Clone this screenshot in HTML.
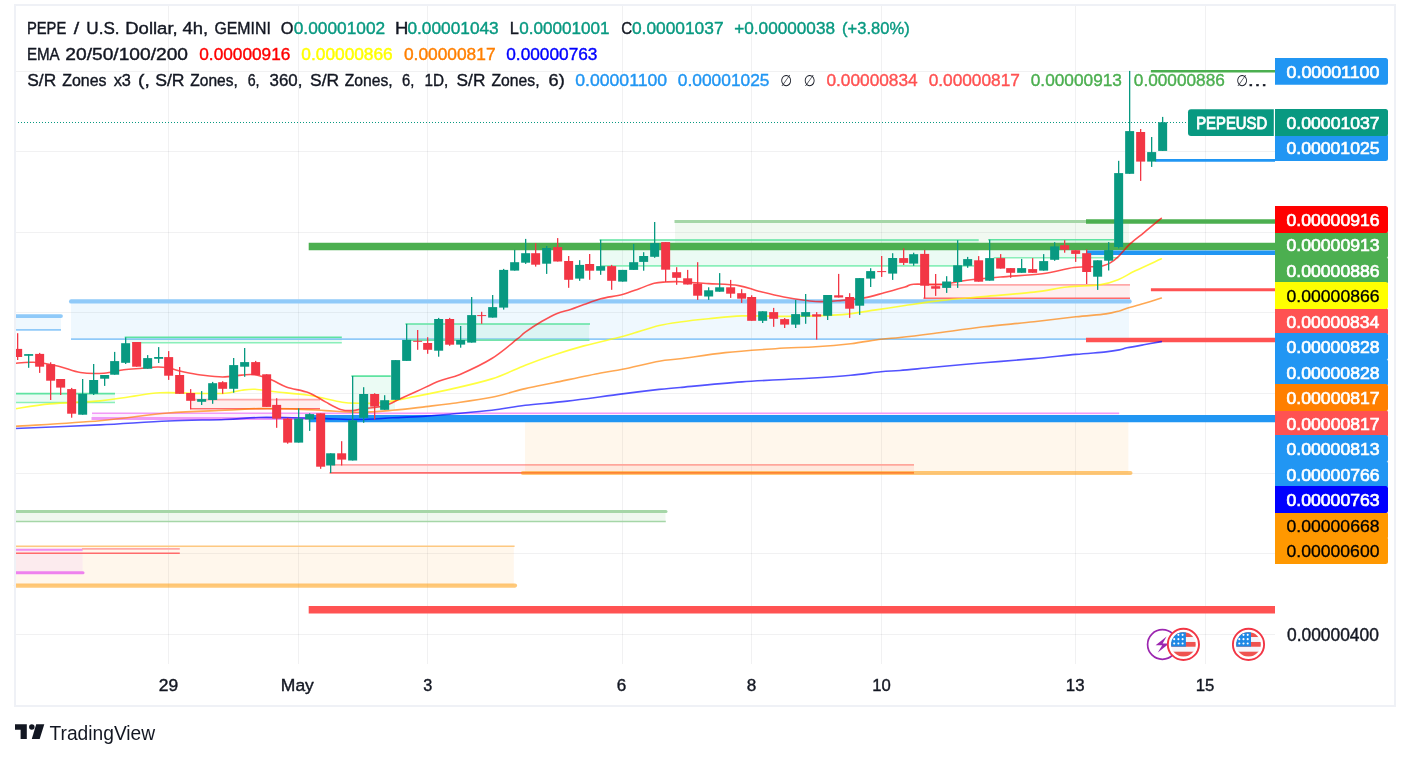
<!DOCTYPE html>
<html lang="en"><head><meta charset="utf-8"><title>PEPEUSD chart</title>
<style>html,body{margin:0;padding:0;background:#fff}svg{display:block}</style></head>
<body>
<svg width="1410" height="759" viewBox="0 0 1410 759" font-family='"Liberation Sans", "DejaVu Sans", sans-serif'>
<rect x="0.00" y="0.00" width="1410.00" height="759.00" fill="#ffffff" />
<line x1="16.00" y1="71.50" x2="1275.00" y2="71.50" stroke="rgba(42,46,57,0.065)" stroke-width="1" stroke-linecap="butt" />
<line x1="16.00" y1="151.50" x2="1275.00" y2="151.50" stroke="rgba(42,46,57,0.065)" stroke-width="1" stroke-linecap="butt" />
<line x1="16.00" y1="232.50" x2="1275.00" y2="232.50" stroke="rgba(42,46,57,0.065)" stroke-width="1" stroke-linecap="butt" />
<line x1="16.00" y1="312.50" x2="1275.00" y2="312.50" stroke="rgba(42,46,57,0.065)" stroke-width="1" stroke-linecap="butt" />
<line x1="16.00" y1="393.50" x2="1275.00" y2="393.50" stroke="rgba(42,46,57,0.065)" stroke-width="1" stroke-linecap="butt" />
<line x1="16.00" y1="473.50" x2="1275.00" y2="473.50" stroke="rgba(42,46,57,0.065)" stroke-width="1" stroke-linecap="butt" />
<line x1="16.00" y1="553.50" x2="1275.00" y2="553.50" stroke="rgba(42,46,57,0.065)" stroke-width="1" stroke-linecap="butt" />
<line x1="16.00" y1="634.50" x2="1275.00" y2="634.50" stroke="rgba(42,46,57,0.065)" stroke-width="1" stroke-linecap="butt" />
<line x1="168.5" y1="6" x2="168.5" y2="664" stroke="rgba(42,46,57,0.065)" stroke-width="1"/>
<line x1="298.5" y1="6" x2="298.5" y2="664" stroke="rgba(42,46,57,0.065)" stroke-width="1"/>
<line x1="427.5" y1="6" x2="427.5" y2="664" stroke="rgba(42,46,57,0.065)" stroke-width="1"/>
<line x1="622.5" y1="6" x2="622.5" y2="664" stroke="rgba(42,46,57,0.065)" stroke-width="1"/>
<line x1="751.5" y1="6" x2="751.5" y2="664" stroke="rgba(42,46,57,0.065)" stroke-width="1"/>
<line x1="881.5" y1="6" x2="881.5" y2="664" stroke="rgba(42,46,57,0.065)" stroke-width="1"/>
<line x1="1075.5" y1="6" x2="1075.5" y2="664" stroke="rgba(42,46,57,0.065)" stroke-width="1"/>
<line x1="1205.5" y1="6" x2="1205.5" y2="664" stroke="rgba(42,46,57,0.065)" stroke-width="1"/>
<rect x="71.00" y="301.30" width="1058.00" height="37.70" fill="rgba(33,150,243,0.07)" />
<line x1="71.00" y1="339.10" x2="1129.50" y2="339.10" stroke="#90caf9" stroke-width="1.6" stroke-linecap="butt" />
<line x1="71.20" y1="301.40" x2="1129.50" y2="301.40" stroke="#90caf9" stroke-width="4.4" stroke-linecap="round" />
<rect x="16.00" y="316.00" width="45.00" height="14.00" fill="rgba(33,150,243,0.07)" />
<line x1="16.00" y1="329.90" x2="61.00" y2="329.90" stroke="#90caf9" stroke-width="1.6" stroke-linecap="butt" />
<line x1="16.00" y1="316.10" x2="61.00" y2="316.10" stroke="#90caf9" stroke-width="3.8" stroke-linecap="round" />
<rect x="16.00" y="393.60" width="99.00" height="8.90" fill="rgba(0,200,110,0.08)" />
<line x1="16.00" y1="393.60" x2="115.00" y2="393.60" stroke="#5fe3a1" stroke-width="1.6" stroke-linecap="butt" />
<line x1="16.00" y1="402.50" x2="115.00" y2="402.50" stroke="#8aefba" stroke-width="1.6" stroke-linecap="butt" />
<rect x="125.00" y="337.30" width="216.80" height="5.50" fill="rgba(0,200,110,0.08)" />
<line x1="124.70" y1="337.30" x2="341.80" y2="337.30" stroke="#5fe3a1" stroke-width="1.6" stroke-linecap="butt" />
<line x1="132.00" y1="342.80" x2="341.80" y2="342.80" stroke="#8aefba" stroke-width="1.6" stroke-linecap="butt" />
<rect x="352.00" y="376.20" width="43.00" height="33.80" fill="rgba(0,200,110,0.08)" />
<line x1="351.40" y1="376.10" x2="390.80" y2="376.10" stroke="#5fe3a1" stroke-width="1.6" stroke-linecap="butt" />
<rect x="406.00" y="324.00" width="183.00" height="15.60" fill="rgba(0,200,110,0.08)" />
<line x1="405.40" y1="324.05" x2="590.00" y2="324.05" stroke="#5fe3a1" stroke-width="1.6" stroke-linecap="butt" />
<line x1="406.00" y1="340.20" x2="589.50" y2="340.20" stroke="#74e3ab" stroke-width="1.7" stroke-linecap="butt" />
<rect x="675.00" y="221.50" width="454.00" height="24.50" fill="rgba(76,175,80,0.08)" />
<line x1="674.50" y1="221.50" x2="1086.00" y2="221.50" stroke="#a5d6a7" stroke-width="3" stroke-linecap="butt" />
<rect x="600.00" y="240.00" width="378.50" height="26.00" fill="rgba(0,200,110,0.08)" />
<line x1="599.50" y1="240.00" x2="978.70" y2="240.00" stroke="#5fe3a1" stroke-width="1.6" stroke-linecap="butt" />
<line x1="600.00" y1="265.90" x2="974.00" y2="265.90" stroke="#8aefba" stroke-width="1.6" stroke-linecap="butt" />
<rect x="989.00" y="239.80" width="125.00" height="18.00" fill="rgba(0,200,110,0.08)" />
<line x1="988.20" y1="239.80" x2="1114.00" y2="239.80" stroke="#5fe3a1" stroke-width="1.6" stroke-linecap="butt" />
<line x1="993.70" y1="257.80" x2="1118.40" y2="257.80" stroke="#8aefba" stroke-width="1.6" stroke-linecap="butt" />
<rect x="191.00" y="399.20" width="129.00" height="9.60" fill="rgba(255,82,82,0.09)" />
<line x1="191.00" y1="399.60" x2="320.00" y2="399.60" stroke="#ffa8a8" stroke-width="1.6" stroke-linecap="butt" />
<line x1="190.00" y1="408.80" x2="320.00" y2="408.80" stroke="#ff6b6b" stroke-width="1.6" stroke-linecap="butt" />
<rect x="331.00" y="465.00" width="583.00" height="8.00" fill="rgba(255,82,82,0.09)" />
<line x1="332.00" y1="464.90" x2="914.00" y2="464.90" stroke="#ffa8a8" stroke-width="1.6" stroke-linecap="butt" />
<line x1="329.60" y1="472.90" x2="914.00" y2="472.90" stroke="#ff6b6b" stroke-width="1.6" stroke-linecap="butt" />
<rect x="924.00" y="285.00" width="205.80" height="13.20" fill="rgba(255,82,82,0.09)" />
<line x1="924.00" y1="284.90" x2="1130.00" y2="284.90" stroke="#ffa8a8" stroke-width="1.6" stroke-linecap="butt" />
<line x1="923.40" y1="298.20" x2="1130.00" y2="298.20" stroke="#ff6b6b" stroke-width="1.6" stroke-linecap="butt" />
<rect x="92.00" y="413.40" width="1027.00" height="5.10" fill="#fdeffe" />
<line x1="92.00" y1="413.20" x2="1119.20" y2="413.20" stroke="#f29af7" stroke-width="1.4" stroke-linecap="butt" />
<line x1="91.50" y1="418.40" x2="320.00" y2="418.40" stroke="#ef9af6" stroke-width="3" stroke-linecap="butt" />
<rect x="525.00" y="422.00" width="603.40" height="51.00" fill="rgba(255,152,0,0.075)" />
<rect x="16.00" y="546.20" width="497.80" height="39.40" fill="rgba(255,152,0,0.075)" />
<line x1="16.00" y1="546.20" x2="514.60" y2="546.20" stroke="#fdc880" stroke-width="1.5" stroke-linecap="butt" />
<line x1="16.00" y1="585.60" x2="515.00" y2="585.60" stroke="rgba(255,152,0,0.52)" stroke-width="4.2" stroke-linecap="round" />
<rect x="16.00" y="549.60" width="66.60" height="23.10" fill="#fcebee" />
<line x1="16.00" y1="549.70" x2="82.60" y2="549.70" stroke="#f08df0" stroke-width="2" stroke-linecap="butt" />
<line x1="16.00" y1="572.70" x2="83.00" y2="572.70" stroke="#ee82ee" stroke-width="3" stroke-linecap="round" />
<line x1="82.00" y1="548.90" x2="179.80" y2="548.90" stroke="#ffa8a8" stroke-width="1.6" stroke-linecap="butt" />
<line x1="16.00" y1="553.20" x2="179.80" y2="553.20" stroke="#ff6b6b" stroke-width="1.6" stroke-linecap="butt" />
<rect x="16.00" y="511.60" width="649.50" height="9.80" fill="rgba(76,175,80,0.09)" />
<line x1="16.00" y1="511.60" x2="666.00" y2="511.60" stroke="#a5d6a7" stroke-width="3" stroke-linecap="round" />
<line x1="16.00" y1="521.40" x2="665.80" y2="521.40" stroke="#a5d6a7" stroke-width="1.5" stroke-linecap="butt" />
<line x1="522.80" y1="473.00" x2="1130.50" y2="473.00" stroke="rgba(255,152,0,0.52)" stroke-width="4" stroke-linecap="round" />
<line x1="308.70" y1="246.50" x2="1275.00" y2="246.50" stroke="#4caf50" stroke-width="7.3" stroke-linecap="butt" />
<line x1="308.70" y1="418.70" x2="1275.00" y2="418.70" stroke="#2196f3" stroke-width="7.3" stroke-linecap="butt" />
<line x1="308.70" y1="609.80" x2="1275.00" y2="609.80" stroke="#ff5252" stroke-width="7.5" stroke-linecap="butt" />
<line x1="1086.00" y1="221.60" x2="1275.00" y2="221.60" stroke="#4caf50" stroke-width="4.5" stroke-linecap="butt" />
<line x1="1086.80" y1="252.70" x2="1275.00" y2="252.70" stroke="#2196f3" stroke-width="4.5" stroke-linecap="butt" />
<line x1="1086.00" y1="340.00" x2="1275.00" y2="340.00" stroke="#ff5252" stroke-width="4.5" stroke-linecap="butt" />
<line x1="1150.90" y1="289.80" x2="1275.00" y2="289.80" stroke="#ff5252" stroke-width="3" stroke-linecap="butt" />
<line x1="1150.90" y1="71.20" x2="1275.00" y2="71.20" stroke="#4caf50" stroke-width="2.6" stroke-linecap="butt" />
<line x1="1155.40" y1="160.40" x2="1275.00" y2="160.40" stroke="#2196f3" stroke-width="2.8" stroke-linecap="butt" />
<path d="M15.0 428.5 C29.2 427.9 74.5 426.1 100.0 424.9 C125.5 423.6 147.2 421.9 168.0 421.0 C188.8 420.1 209.9 420.1 225.0 419.5 C240.1 418.9 247.3 417.8 258.5 417.5 C269.7 417.2 280.9 417.6 292.0 417.8 C303.1 418.0 314.2 418.3 325.4 418.6 C336.5 418.9 347.7 419.6 358.9 419.5 C370.1 419.4 381.2 418.4 392.4 417.8 C403.6 417.2 416.3 416.7 425.9 416.1 C435.5 415.5 439.0 415.2 450.0 414.2 C461.0 413.2 479.2 411.8 491.8 410.3 C504.4 408.8 512.7 406.8 525.3 405.3 C537.9 403.8 551.0 403.0 567.2 401.1 C583.4 399.2 607.1 395.8 622.4 393.9 C637.7 391.9 649.6 390.5 659.2 389.4 C668.8 388.3 666.2 388.8 680.0 387.5 C693.8 386.2 720.5 383.4 742.0 381.9 C763.5 380.3 790.8 379.3 808.9 378.2 C827.0 377.1 838.8 376.3 850.8 375.2 C862.8 374.1 872.7 372.6 880.9 371.8 C889.1 371.0 891.2 371.2 900.0 370.5 C908.8 369.8 919.5 368.6 933.5 367.3 C947.5 366.0 967.0 364.2 983.7 362.8 C1000.4 361.4 1018.6 360.0 1033.9 358.6 C1049.2 357.2 1063.8 355.5 1075.8 354.4 C1087.8 353.3 1098.7 352.6 1105.9 351.9 C1113.2 351.1 1115.8 350.6 1119.3 349.9 C1122.8 349.2 1122.9 348.6 1127.0 347.8 C1131.1 347.0 1138.0 345.8 1143.7 344.8 C1149.4 343.8 1158.4 342.1 1161.3 341.6" fill="none" stroke="#0000ff" stroke-width="1.6" stroke-linejoin="round" stroke-linecap="round" opacity="0.68"/>
<path d="M15.0 426.4 C29.2 425.4 74.5 422.9 100.0 420.7 C125.5 418.5 147.2 414.7 168.0 413.0 C188.8 411.3 209.9 411.0 225.0 410.3 C240.1 409.6 247.3 408.8 258.5 408.6 C269.7 408.4 280.9 408.6 292.0 408.9 C303.1 409.2 314.2 410.0 325.4 410.6 C336.5 411.2 347.7 412.4 358.9 412.3 C370.1 412.2 381.2 411.2 392.4 410.3 C403.6 409.4 416.3 407.7 425.9 406.6 C435.5 405.5 439.0 405.2 450.0 403.7 C461.0 402.1 479.2 399.8 491.8 397.3 C504.4 394.8 515.0 391.0 525.3 388.6 C535.6 386.2 541.2 385.3 553.8 382.7 C566.4 380.1 589.3 375.2 600.7 373.0 C612.1 370.8 612.6 371.2 622.4 369.3 C632.1 367.4 649.6 363.1 659.2 361.3 C668.8 359.6 669.0 360.2 680.0 358.8 C691.0 357.4 709.3 354.3 725.2 352.6 C741.1 350.9 760.3 349.7 775.4 348.7 C790.5 347.7 803.0 347.5 815.6 346.7 C828.2 345.9 839.9 344.9 850.8 343.7 C861.7 342.4 872.7 340.2 880.9 339.2 C889.1 338.2 891.2 338.4 900.0 337.5 C908.8 336.6 919.5 335.3 933.5 333.5 C947.5 331.7 967.0 328.8 983.7 326.8 C1000.4 324.9 1018.6 323.5 1033.9 321.8 C1049.2 320.1 1063.8 318.1 1075.8 316.8 C1087.8 315.5 1098.7 314.9 1105.9 313.9 C1113.2 312.9 1115.8 311.8 1119.3 310.9 C1122.8 309.9 1122.9 309.4 1127.0 308.2 C1131.1 307.0 1138.0 305.2 1143.7 303.5 C1149.4 301.8 1158.4 299.0 1161.3 298.1" fill="none" stroke="#ff7f00" stroke-width="1.6" stroke-linejoin="round" stroke-linecap="round" opacity="0.68"/>
<path d="M15.0 408.8 C20.8 408.0 35.8 405.2 50.0 403.9 C64.2 402.6 86.7 402.1 100.0 400.9 C113.3 399.7 120.0 398.0 130.0 396.7 C140.0 395.4 148.3 393.4 160.0 392.8 C171.7 392.2 189.2 393.3 200.0 393.4 C210.8 393.5 218.1 393.7 225.0 393.2 C231.9 392.7 236.7 390.8 241.7 390.2 C246.7 389.6 249.5 389.0 255.1 389.3 C260.7 389.6 266.3 390.8 275.2 391.8 C284.1 392.8 297.5 393.5 308.7 395.2 C319.9 396.9 333.8 400.9 342.2 402.2 C350.6 403.5 353.3 403.0 358.9 403.2 C364.5 403.4 370.1 403.6 375.7 403.2 C381.3 402.8 386.8 401.9 392.4 401.0 C398.0 400.1 403.5 398.8 409.1 397.7 C414.7 396.6 419.1 395.8 425.9 394.4 C432.7 393.0 439.0 392.0 450.0 389.4 C461.0 386.8 479.2 382.9 491.8 378.9 C504.4 374.9 515.0 369.2 525.3 365.2 C535.6 361.2 544.0 358.2 553.8 355.0 C563.6 351.8 573.3 348.8 583.9 345.9 C594.5 343.0 609.0 339.9 617.4 337.8 C625.8 335.7 627.1 335.1 634.1 333.0 C641.1 330.9 651.6 327.3 659.2 325.5 C666.9 323.7 671.8 323.1 680.0 322.0 C688.2 320.9 698.2 319.8 708.5 318.8 C718.8 317.8 728.0 316.3 742.0 315.9 C756.0 315.5 775.5 316.5 792.2 316.3 C808.9 316.1 828.5 315.7 842.4 314.6 C856.3 313.5 865.5 311.4 875.9 309.9 C886.3 308.4 894.0 307.1 905.0 305.5 C916.0 303.9 928.7 301.9 941.8 300.4 C954.9 298.9 968.4 298.0 983.7 296.6 C999.1 295.2 1020.0 293.7 1033.9 292.1 C1047.9 290.5 1056.2 288.2 1067.4 287.0 C1078.6 285.8 1092.4 285.9 1100.9 284.6 C1109.4 283.4 1112.9 281.8 1118.6 279.5 C1124.3 277.2 1128.2 274.2 1135.3 270.8 C1142.4 267.4 1157.0 260.8 1161.3 258.8" fill="none" stroke="#ffff00" stroke-width="1.65" stroke-linejoin="round" stroke-linecap="round" opacity="0.75"/>
<path d="M15.0 363.3 C18.1 363.1 26.2 361.8 33.5 362.3 C40.8 362.8 50.8 364.5 58.6 366.2 C66.4 367.9 72.8 371.3 80.3 372.5 C87.8 373.7 96.5 373.6 103.8 373.2 C111.1 372.8 117.5 370.6 123.9 369.8 C130.3 369.0 136.7 368.8 142.3 368.3 C147.9 367.8 153.1 367.1 157.3 367.0 C161.5 366.9 162.9 367.0 167.4 367.8 C171.9 368.6 178.5 370.8 184.1 372.0 C189.7 373.2 194.5 374.2 200.9 375.0 C207.3 375.8 215.8 377.0 222.6 377.0 C229.4 377.0 236.3 375.5 241.7 375.1 C247.1 374.7 250.1 374.0 255.1 374.8 C260.1 375.6 266.6 378.0 271.9 380.1 C277.2 382.2 280.8 385.1 286.9 387.2 C293.0 389.3 302.3 390.2 308.7 392.7 C315.1 395.1 320.1 399.1 325.4 401.9 C330.7 404.7 336.0 407.9 340.5 409.4 C345.0 410.8 348.3 410.7 352.2 410.6 C356.1 410.5 358.6 409.4 363.9 408.6 C369.2 407.9 377.9 407.8 384.0 406.1 C390.1 404.4 395.2 401.0 400.8 398.5 C406.4 396.0 411.1 393.9 417.5 391.0 C423.9 388.1 432.2 383.8 439.3 381.0 C446.4 378.2 451.2 378.1 460.0 374.4 C468.8 370.6 482.3 364.4 491.8 358.5 C501.3 352.6 511.4 343.6 517.0 339.2 C522.6 334.8 521.1 335.2 525.3 332.2 C529.5 329.2 536.7 324.4 542.0 321.3 C547.3 318.2 552.4 315.3 557.1 313.4 C561.9 311.4 566.0 311.1 570.5 309.6 C575.0 308.1 578.9 306.4 583.9 304.6 C588.9 302.8 594.3 300.4 600.7 298.7 C607.1 297.0 616.0 296.2 622.4 294.5 C628.8 292.8 633.9 290.6 639.2 288.7 C644.5 286.8 649.8 284.4 654.2 283.3 C658.7 282.2 661.6 282.3 665.9 282.0 C670.2 281.7 672.9 281.4 680.0 281.7 C687.1 282.0 698.7 283.0 708.5 283.6 C718.3 284.2 730.2 284.3 738.6 285.6 C747.0 286.9 751.2 289.3 758.7 291.2 C766.2 293.1 774.3 295.3 783.8 297.0 C793.3 298.7 805.8 300.9 815.6 301.5 C825.4 302.1 834.3 301.0 842.4 300.4 C850.5 299.8 857.2 299.2 864.2 297.9 C871.2 296.6 877.4 294.6 884.2 292.8 C891.0 291.0 900.1 288.4 905.0 287.0 C909.9 285.6 907.3 284.7 913.4 284.2 C919.5 283.7 932.9 284.8 941.8 284.2 C950.7 283.6 957.2 281.5 967.0 280.3 C976.8 279.1 987.9 278.1 1000.4 277.0 C1012.9 275.9 1030.0 275.3 1042.3 273.7 C1054.6 272.1 1064.9 268.7 1074.1 267.5 C1083.3 266.3 1092.7 266.9 1097.5 266.6 C1102.3 266.3 1100.9 266.4 1103.0 265.8 C1105.1 265.2 1107.6 264.5 1110.2 262.9 C1112.8 261.3 1115.2 259.5 1118.6 256.3 C1121.9 253.1 1126.1 247.6 1130.3 243.7 C1134.5 239.8 1138.5 237.0 1143.7 232.8 C1148.9 228.6 1158.4 220.7 1161.3 218.3" fill="none" stroke="#ff0000" stroke-width="1.6" stroke-linejoin="round" stroke-linecap="round" opacity="0.68"/>
<g clip-path="url(#pane)">
<clipPath id="pane"><rect x="16" y="6" width="1259" height="658"/></clipPath>
<rect x="17.00" y="333.20" width="1.30" height="26.80" fill="#f23645" />
<rect x="13.15" y="348.90" width="9.00" height="8.10" fill="#f23645" />
<rect x="28.00" y="354.10" width="1.30" height="13.70" fill="#089981" />
<rect x="24.15" y="354.10" width="9.00" height="1.70" fill="#089981" />
<rect x="39.00" y="352.90" width="1.30" height="20.00" fill="#f23645" />
<rect x="35.15" y="353.90" width="9.00" height="12.80" fill="#f23645" />
<rect x="50.00" y="362.30" width="1.30" height="37.70" fill="#f23645" />
<rect x="46.15" y="364.20" width="9.00" height="16.50" fill="#f23645" />
<rect x="60.00" y="379.00" width="1.30" height="16.00" fill="#f23645" />
<rect x="56.15" y="379.00" width="9.00" height="8.60" fill="#f23645" />
<rect x="71.00" y="387.90" width="1.30" height="29.80" fill="#f23645" />
<rect x="67.15" y="389.10" width="9.00" height="24.60" fill="#f23645" />
<rect x="82.00" y="379.00" width="1.30" height="35.70" fill="#089981" />
<rect x="78.15" y="393.80" width="9.00" height="20.90" fill="#089981" />
<rect x="93.00" y="364.00" width="1.30" height="31.00" fill="#089981" />
<rect x="89.15" y="380.00" width="9.00" height="13.80" fill="#089981" />
<rect x="104.00" y="375.00" width="1.30" height="10.90" fill="#089981" />
<rect x="100.15" y="375.00" width="9.00" height="3.70" fill="#089981" />
<rect x="114.00" y="351.90" width="1.30" height="22.80" fill="#089981" />
<rect x="110.15" y="361.10" width="9.00" height="13.60" fill="#089981" />
<rect x="125.00" y="337.40" width="1.30" height="26.60" fill="#089981" />
<rect x="121.15" y="343.20" width="9.00" height="19.60" fill="#089981" />
<rect x="136.00" y="342.00" width="1.30" height="24.70" fill="#f23645" />
<rect x="132.15" y="342.00" width="9.00" height="24.70" fill="#f23645" />
<rect x="147.00" y="355.10" width="1.30" height="13.60" fill="#089981" />
<rect x="143.15" y="358.10" width="9.00" height="10.60" fill="#089981" />
<rect x="158.00" y="347.10" width="1.30" height="15.90" fill="#089981" />
<rect x="154.15" y="357.00" width="9.00" height="1.80" fill="#089981" />
<rect x="168.00" y="351.10" width="1.30" height="28.80" fill="#f23645" />
<rect x="164.15" y="357.10" width="9.00" height="18.60" fill="#f23645" />
<rect x="179.00" y="367.00" width="1.30" height="26.80" fill="#f23645" />
<rect x="175.15" y="375.00" width="9.00" height="18.80" fill="#f23645" />
<rect x="190.00" y="389.10" width="1.30" height="20.10" fill="#f23645" />
<rect x="186.15" y="393.00" width="9.00" height="7.80" fill="#f23645" />
<rect x="201.00" y="391.10" width="1.30" height="13.90" fill="#089981" />
<rect x="197.15" y="399.10" width="9.00" height="2.70" fill="#089981" />
<rect x="212.00" y="381.90" width="1.30" height="21.90" fill="#089981" />
<rect x="208.15" y="383.20" width="9.00" height="16.80" fill="#089981" />
<rect x="222.00" y="381.20" width="1.30" height="12.60" fill="#f23645" />
<rect x="218.15" y="382.20" width="9.00" height="6.60" fill="#f23645" />
<rect x="233.00" y="358.00" width="1.30" height="34.70" fill="#089981" />
<rect x="229.15" y="365.10" width="9.00" height="23.70" fill="#089981" />
<rect x="244.00" y="348.00" width="1.30" height="28.80" fill="#089981" />
<rect x="240.15" y="362.10" width="9.00" height="4.60" fill="#089981" />
<rect x="255.00" y="360.90" width="1.30" height="14.20" fill="#f23645" />
<rect x="251.15" y="362.10" width="9.00" height="13.00" fill="#f23645" />
<rect x="266.00" y="374.30" width="1.30" height="32.60" fill="#f23645" />
<rect x="262.15" y="374.30" width="9.00" height="32.60" fill="#f23645" />
<rect x="276.00" y="398.20" width="1.30" height="29.60" fill="#f23645" />
<rect x="272.15" y="404.90" width="9.00" height="13.70" fill="#f23645" />
<rect x="287.00" y="417.80" width="1.30" height="25.90" fill="#f23645" />
<rect x="283.15" y="418.60" width="9.00" height="24.00" fill="#f23645" />
<rect x="298.00" y="408.30" width="1.30" height="34.30" fill="#089981" />
<rect x="294.15" y="418.60" width="9.00" height="24.00" fill="#089981" />
<rect x="309.00" y="413.30" width="1.30" height="17.60" fill="#089981" />
<rect x="305.15" y="414.10" width="9.00" height="5.40" fill="#089981" />
<rect x="320.00" y="413.30" width="1.30" height="55.50" fill="#f23645" />
<rect x="316.15" y="413.30" width="9.00" height="53.40" fill="#f23645" />
<rect x="330.00" y="453.30" width="1.30" height="19.70" fill="#089981" />
<rect x="326.15" y="453.30" width="9.00" height="12.20" fill="#089981" />
<rect x="341.00" y="441.20" width="1.30" height="24.30" fill="#f23645" />
<rect x="337.15" y="453.30" width="9.00" height="6.30" fill="#f23645" />
<rect x="352.00" y="376.00" width="1.30" height="84.50" fill="#089981" />
<rect x="348.15" y="420.30" width="9.00" height="40.20" fill="#089981" />
<rect x="363.00" y="387.20" width="1.30" height="35.60" fill="#089981" />
<rect x="359.15" y="394.00" width="9.00" height="23.80" fill="#089981" />
<rect x="374.00" y="393.20" width="1.30" height="26.30" fill="#f23645" />
<rect x="370.15" y="394.00" width="9.00" height="12.60" fill="#f23645" />
<rect x="384.00" y="395.20" width="1.30" height="14.60" fill="#089981" />
<rect x="380.15" y="400.20" width="9.00" height="9.60" fill="#089981" />
<rect x="395.00" y="360.10" width="1.30" height="39.70" fill="#089981" />
<rect x="391.15" y="360.10" width="9.00" height="39.70" fill="#089981" />
<rect x="406.00" y="323.90" width="1.30" height="37.00" fill="#089981" />
<rect x="402.15" y="339.90" width="9.00" height="21.00" fill="#089981" />
<rect x="417.00" y="330.00" width="1.30" height="19.80" fill="#f23645" />
<rect x="413.15" y="340.80" width="9.00" height="1.00" fill="#f23645" />
<rect x="427.00" y="337.20" width="1.30" height="16.60" fill="#f23645" />
<rect x="423.15" y="343.00" width="9.00" height="6.80" fill="#f23645" />
<rect x="438.00" y="317.90" width="1.30" height="38.80" fill="#089981" />
<rect x="434.15" y="319.00" width="9.00" height="31.70" fill="#089981" />
<rect x="449.00" y="317.90" width="1.30" height="27.90" fill="#f23645" />
<rect x="445.15" y="319.00" width="9.00" height="25.70" fill="#f23645" />
<rect x="460.00" y="326.00" width="1.30" height="21.70" fill="#089981" />
<rect x="456.15" y="340.00" width="9.00" height="4.60" fill="#089981" />
<rect x="471.00" y="297.00" width="1.30" height="45.60" fill="#089981" />
<rect x="467.15" y="315.10" width="9.00" height="27.50" fill="#089981" />
<rect x="481.00" y="311.80" width="1.30" height="12.00" fill="#f23645" />
<rect x="477.15" y="315.10" width="9.00" height="1.00" fill="#f23645" />
<rect x="492.00" y="295.00" width="1.30" height="22.60" fill="#089981" />
<rect x="488.15" y="307.10" width="9.00" height="10.50" fill="#089981" />
<rect x="503.00" y="268.90" width="1.30" height="40.70" fill="#089981" />
<rect x="499.15" y="269.90" width="9.00" height="37.70" fill="#089981" />
<rect x="514.00" y="249.80" width="1.30" height="20.80" fill="#089981" />
<rect x="510.15" y="262.20" width="9.00" height="8.40" fill="#089981" />
<rect x="525.00" y="238.90" width="1.30" height="25.00" fill="#089981" />
<rect x="521.15" y="253.20" width="9.00" height="9.50" fill="#089981" />
<rect x="535.00" y="243.10" width="1.30" height="23.50" fill="#f23645" />
<rect x="531.15" y="253.20" width="9.00" height="11.50" fill="#f23645" />
<rect x="546.00" y="246.00" width="1.30" height="27.90" fill="#089981" />
<rect x="542.15" y="248.00" width="9.00" height="15.70" fill="#089981" />
<rect x="557.00" y="238.10" width="1.30" height="23.40" fill="#f23645" />
<rect x="553.15" y="247.10" width="9.00" height="14.40" fill="#f23645" />
<rect x="568.00" y="256.00" width="1.30" height="31.80" fill="#f23645" />
<rect x="564.15" y="261.00" width="9.00" height="18.80" fill="#f23645" />
<rect x="579.00" y="260.20" width="1.30" height="20.60" fill="#089981" />
<rect x="575.15" y="264.90" width="9.00" height="13.70" fill="#089981" />
<rect x="589.00" y="254.00" width="1.30" height="25.80" fill="#f23645" />
<rect x="585.15" y="264.00" width="9.00" height="6.70" fill="#f23645" />
<rect x="600.00" y="239.80" width="1.30" height="35.00" fill="#089981" />
<rect x="596.15" y="266.10" width="9.00" height="4.60" fill="#089981" />
<rect x="611.00" y="264.90" width="1.30" height="24.90" fill="#f23645" />
<rect x="607.15" y="266.10" width="9.00" height="14.70" fill="#f23645" />
<rect x="622.00" y="269.90" width="1.30" height="11.70" fill="#089981" />
<rect x="618.15" y="269.90" width="9.00" height="11.70" fill="#089981" />
<rect x="633.00" y="244.00" width="1.30" height="25.90" fill="#089981" />
<rect x="629.15" y="262.20" width="9.00" height="7.70" fill="#089981" />
<rect x="643.00" y="252.20" width="1.30" height="18.50" fill="#089981" />
<rect x="639.15" y="256.00" width="9.00" height="5.90" fill="#089981" />
<rect x="654.00" y="222.00" width="1.30" height="35.80" fill="#089981" />
<rect x="650.15" y="243.10" width="9.00" height="13.70" fill="#089981" />
<rect x="665.00" y="242.10" width="1.30" height="39.90" fill="#f23645" />
<rect x="661.15" y="242.10" width="9.00" height="27.60" fill="#f23645" />
<rect x="676.00" y="267.20" width="1.30" height="17.60" fill="#f23645" />
<rect x="672.15" y="272.20" width="9.00" height="5.60" fill="#f23645" />
<rect x="687.00" y="269.90" width="1.30" height="14.60" fill="#f23645" />
<rect x="683.15" y="278.30" width="9.00" height="6.20" fill="#f23645" />
<rect x="697.00" y="262.20" width="1.30" height="37.70" fill="#f23645" />
<rect x="693.15" y="283.60" width="9.00" height="12.10" fill="#f23645" />
<rect x="708.00" y="287.30" width="1.30" height="12.60" fill="#089981" />
<rect x="704.15" y="290.30" width="9.00" height="6.20" fill="#089981" />
<rect x="719.00" y="273.10" width="1.30" height="18.60" fill="#089981" />
<rect x="715.15" y="287.30" width="9.00" height="4.40" fill="#089981" />
<rect x="730.00" y="279.90" width="1.30" height="18.00" fill="#f23645" />
<rect x="726.15" y="287.30" width="9.00" height="6.40" fill="#f23645" />
<rect x="741.00" y="289.20" width="1.30" height="13.70" fill="#f23645" />
<rect x="737.15" y="293.20" width="9.00" height="5.50" fill="#f23645" />
<rect x="751.00" y="295.30" width="1.30" height="25.50" fill="#f23645" />
<rect x="747.15" y="297.00" width="9.00" height="23.80" fill="#f23645" />
<rect x="762.00" y="311.30" width="1.30" height="11.70" fill="#089981" />
<rect x="758.15" y="311.30" width="9.00" height="9.50" fill="#089981" />
<rect x="773.00" y="307.90" width="1.30" height="18.90" fill="#f23645" />
<rect x="769.15" y="312.10" width="9.00" height="6.70" fill="#f23645" />
<rect x="784.00" y="318.00" width="1.30" height="10.00" fill="#f23645" />
<rect x="780.15" y="319.10" width="9.00" height="5.50" fill="#f23645" />
<rect x="795.00" y="299.90" width="1.30" height="28.10" fill="#089981" />
<rect x="791.15" y="314.10" width="9.00" height="10.50" fill="#089981" />
<rect x="805.00" y="294.00" width="1.30" height="29.80" fill="#089981" />
<rect x="801.15" y="312.10" width="9.00" height="4.50" fill="#089981" />
<rect x="816.00" y="312.10" width="1.30" height="27.50" fill="#f23645" />
<rect x="812.15" y="314.30" width="9.00" height="2.30" fill="#f23645" />
<rect x="827.00" y="295.00" width="1.30" height="25.00" fill="#089981" />
<rect x="823.15" y="295.00" width="9.00" height="20.80" fill="#089981" />
<rect x="838.00" y="273.90" width="1.30" height="23.60" fill="#f23645" />
<rect x="834.15" y="295.30" width="9.00" height="2.20" fill="#f23645" />
<rect x="849.00" y="293.20" width="1.30" height="24.70" fill="#f23645" />
<rect x="845.15" y="297.00" width="9.00" height="11.70" fill="#f23645" />
<rect x="859.00" y="278.10" width="1.30" height="36.80" fill="#089981" />
<rect x="855.15" y="278.10" width="9.00" height="27.60" fill="#089981" />
<rect x="870.00" y="268.20" width="1.30" height="18.80" fill="#089981" />
<rect x="866.15" y="271.10" width="9.00" height="7.50" fill="#089981" />
<rect x="881.00" y="256.00" width="1.30" height="20.90" fill="#f23645" />
<rect x="877.15" y="271.10" width="9.00" height="1.00" fill="#f23645" />
<rect x="892.00" y="253.20" width="1.30" height="26.70" fill="#089981" />
<rect x="888.15" y="258.00" width="9.00" height="15.60" fill="#089981" />
<rect x="903.00" y="248.30" width="1.30" height="16.70" fill="#f23645" />
<rect x="899.15" y="258.10" width="9.00" height="4.80" fill="#f23645" />
<rect x="913.00" y="252.70" width="1.30" height="13.10" fill="#089981" />
<rect x="909.15" y="254.20" width="9.00" height="9.40" fill="#089981" />
<rect x="924.00" y="249.90" width="1.30" height="48.50" fill="#f23645" />
<rect x="920.15" y="253.90" width="9.00" height="31.80" fill="#f23645" />
<rect x="935.00" y="274.00" width="1.30" height="21.90" fill="#f23645" />
<rect x="931.15" y="286.20" width="9.00" height="2.50" fill="#f23645" />
<rect x="946.00" y="276.20" width="1.30" height="16.70" fill="#089981" />
<rect x="942.15" y="281.50" width="9.00" height="6.40" fill="#089981" />
<rect x="957.00" y="240.20" width="1.30" height="47.70" fill="#089981" />
<rect x="953.15" y="265.30" width="9.00" height="16.70" fill="#089981" />
<rect x="967.00" y="256.90" width="1.30" height="10.90" fill="#089981" />
<rect x="963.15" y="259.10" width="9.00" height="6.70" fill="#089981" />
<rect x="978.00" y="256.10" width="1.30" height="25.60" fill="#f23645" />
<rect x="974.15" y="260.30" width="9.00" height="21.40" fill="#f23645" />
<rect x="989.00" y="239.70" width="1.30" height="41.00" fill="#089981" />
<rect x="985.15" y="258.10" width="9.00" height="22.60" fill="#089981" />
<rect x="1000.00" y="254.10" width="1.30" height="14.50" fill="#f23645" />
<rect x="996.15" y="258.10" width="9.00" height="10.50" fill="#f23645" />
<rect x="1010.00" y="268.10" width="1.30" height="9.70" fill="#f23645" />
<rect x="1006.15" y="268.10" width="9.00" height="4.70" fill="#f23645" />
<rect x="1021.00" y="258.90" width="1.30" height="13.90" fill="#089981" />
<rect x="1017.15" y="268.10" width="9.00" height="4.70" fill="#089981" />
<rect x="1032.00" y="258.10" width="1.30" height="14.70" fill="#f23645" />
<rect x="1028.15" y="269.10" width="9.00" height="3.70" fill="#f23645" />
<rect x="1043.00" y="254.10" width="1.30" height="16.50" fill="#089981" />
<rect x="1039.15" y="261.10" width="9.00" height="9.50" fill="#089981" />
<rect x="1054.00" y="242.20" width="1.30" height="18.60" fill="#089981" />
<rect x="1050.15" y="246.40" width="9.00" height="13.40" fill="#089981" />
<rect x="1064.00" y="240.20" width="1.30" height="12.50" fill="#f23645" />
<rect x="1060.15" y="245.20" width="9.00" height="4.50" fill="#f23645" />
<rect x="1075.00" y="250.20" width="1.30" height="11.70" fill="#f23645" />
<rect x="1071.15" y="250.20" width="9.00" height="3.70" fill="#f23645" />
<rect x="1086.00" y="249.40" width="1.30" height="34.60" fill="#f23645" />
<rect x="1082.15" y="253.20" width="9.00" height="18.80" fill="#f23645" />
<rect x="1097.00" y="260.30" width="1.30" height="29.60" fill="#089981" />
<rect x="1093.15" y="260.30" width="9.00" height="16.40" fill="#089981" />
<rect x="1108.00" y="242.10" width="1.30" height="28.40" fill="#089981" />
<rect x="1104.15" y="250.10" width="9.00" height="10.60" fill="#089981" />
<rect x="1118.00" y="160.80" width="1.30" height="87.60" fill="#089981" />
<rect x="1114.15" y="173.10" width="9.00" height="73.90" fill="#089981" />
<rect x="1129.00" y="70.90" width="1.30" height="102.90" fill="#089981" />
<rect x="1125.15" y="131.10" width="9.00" height="42.70" fill="#089981" />
<rect x="1140.00" y="129.00" width="1.30" height="51.90" fill="#f23645" />
<rect x="1136.15" y="132.00" width="9.00" height="29.60" fill="#f23645" />
<rect x="1151.00" y="137.00" width="1.30" height="29.90" fill="#089981" />
<rect x="1147.15" y="152.10" width="9.00" height="9.50" fill="#089981" />
<rect x="1162.00" y="116.90" width="1.30" height="34.00" fill="#089981" />
<rect x="1158.15" y="122.30" width="9.00" height="28.60" fill="#089981" />
</g>
<line x1="15" y1="122.5" x2="1188" y2="122.5" stroke="#089981" stroke-width="1.2" stroke-dasharray="1 2"/>
<path d="M1275 57.90 H1385.5 Q1388 57.90 1388 60.40 V82.30 Q1388 84.80 1385.5 84.80 H1275 Z" fill="#2196f3"/>
<path d="M1275 134.10 H1385.5 Q1388 134.10 1388 136.60 V158.50 Q1388 161.00 1385.5 161.00 H1275 Z" fill="#2196f3"/>
<path d="M1275 231.10 H1385.5 Q1388 231.10 1388 233.60 V255.50 Q1388 258.00 1385.5 258.00 H1275 Z" fill="#4caf50"/>
<path d="M1275 257.10 H1385.5 Q1388 257.10 1388 259.60 V281.50 Q1388 284.00 1385.5 284.00 H1275 Z" fill="#4caf50"/>
<path d="M1275 308.10 H1385.5 Q1388 308.10 1388 310.60 V332.50 Q1388 335.00 1385.5 335.00 H1275 Z" fill="#ff5252"/>
<path d="M1275 359.10 H1385.5 Q1388 359.10 1388 361.60 V383.50 Q1388 386.00 1385.5 386.00 H1275 Z" fill="#2196f3"/>
<path d="M1275 410.10 H1385.5 Q1388 410.10 1388 412.60 V434.50 Q1388 437.00 1385.5 437.00 H1275 Z" fill="#ff5252"/>
<path d="M1275 461.10 H1385.5 Q1388 461.10 1388 463.60 V485.50 Q1388 488.00 1385.5 488.00 H1275 Z" fill="#2196f3"/>
<path d="M1275 512.10 H1385.5 Q1388 512.10 1388 514.60 V536.50 Q1388 539.00 1385.5 539.00 H1275 Z" fill="#ff9800"/>
<path d="M1275 537.10 H1385.5 Q1388 537.10 1388 539.60 V561.50 Q1388 564.00 1385.5 564.00 H1275 Z" fill="#ff9800"/>
<path d="M1275 109.10 H1385.5 Q1388 109.10 1388 111.60 V133.50 Q1388 136.00 1385.5 136.00 H1275 Z" fill="#089981"/>
<path d="M1275 206.10 H1385.5 Q1388 206.10 1388 208.60 V230.50 Q1388 233.00 1385.5 233.00 H1275 Z" fill="#ff0000"/>
<path d="M1275 282.10 H1385.5 Q1388 282.10 1388 284.60 V306.50 Q1388 309.00 1385.5 309.00 H1275 Z" fill="#ffff00"/>
<path d="M1275 333.10 H1385.5 Q1388 333.10 1388 335.60 V357.50 Q1388 360.00 1385.5 360.00 H1275 Z" fill="#2196f3"/>
<path d="M1275 384.10 H1385.5 Q1388 384.10 1388 386.60 V408.50 Q1388 411.00 1385.5 411.00 H1275 Z" fill="#ff7f00"/>
<path d="M1275 435.10 H1385.5 Q1388 435.10 1388 437.60 V459.50 Q1388 462.00 1385.5 462.00 H1275 Z" fill="#2196f3"/>
<path d="M1275 486.10 H1385.5 Q1388 486.10 1388 488.60 V510.50 Q1388 513.00 1385.5 513.00 H1275 Z" fill="#0000ff"/>
<text x="1286.53" y="77.65" font-size="17.3" fill="#fff" text-anchor="start" font-weight="normal" textLength="92.97" lengthAdjust="spacingAndGlyphs" stroke="#fff" stroke-width="0.7">0.00001100</text>
<text x="1286.54" y="153.85" font-size="17.3" fill="#fff" text-anchor="start" font-weight="normal" textLength="92.98" lengthAdjust="spacingAndGlyphs" stroke="#fff" stroke-width="0.7">0.00001025</text>
<text x="1286.54" y="128.85" font-size="17.3" fill="#fff" text-anchor="start" font-weight="normal" textLength="93.11" lengthAdjust="spacingAndGlyphs" stroke="#fff" stroke-width="0.7">0.00001037</text>
<text x="1286.54" y="225.85" font-size="17.3" fill="#fff" text-anchor="start" font-weight="normal" textLength="93.02" lengthAdjust="spacingAndGlyphs" stroke="#fff" stroke-width="0.7">0.00000916</text>
<text x="1286.54" y="250.85" font-size="17.3" fill="#fff" text-anchor="start" font-weight="normal" textLength="93.02" lengthAdjust="spacingAndGlyphs" stroke="#fff" stroke-width="0.7">0.00000913</text>
<text x="1286.54" y="276.85" font-size="17.3" fill="#fff" text-anchor="start" font-weight="normal" textLength="93.02" lengthAdjust="spacingAndGlyphs" stroke="#fff" stroke-width="0.7">0.00000886</text>
<text x="1286.54" y="301.85" font-size="17.3" fill="#000" text-anchor="start" font-weight="normal" textLength="93.02" lengthAdjust="spacingAndGlyphs" stroke="#000" stroke-width="0.3">0.00000866</text>
<text x="1286.54" y="327.85" font-size="17.3" fill="#fff" text-anchor="start" font-weight="normal" textLength="92.76" lengthAdjust="spacingAndGlyphs" stroke="#fff" stroke-width="0.7">0.00000834</text>
<text x="1286.54" y="352.85" font-size="17.3" fill="#fff" text-anchor="start" font-weight="normal" textLength="92.98" lengthAdjust="spacingAndGlyphs" stroke="#fff" stroke-width="0.7">0.00000828</text>
<text x="1286.54" y="378.85" font-size="17.3" fill="#fff" text-anchor="start" font-weight="normal" textLength="92.98" lengthAdjust="spacingAndGlyphs" stroke="#fff" stroke-width="0.7">0.00000828</text>
<text x="1286.54" y="403.85" font-size="17.3" fill="#fff" text-anchor="start" font-weight="normal" textLength="93.11" lengthAdjust="spacingAndGlyphs" stroke="#fff" stroke-width="0.7">0.00000817</text>
<text x="1286.54" y="429.85" font-size="17.3" fill="#fff" text-anchor="start" font-weight="normal" textLength="93.11" lengthAdjust="spacingAndGlyphs" stroke="#fff" stroke-width="0.7">0.00000817</text>
<text x="1286.54" y="454.85" font-size="17.3" fill="#fff" text-anchor="start" font-weight="normal" textLength="93.02" lengthAdjust="spacingAndGlyphs" stroke="#fff" stroke-width="0.7">0.00000813</text>
<text x="1286.54" y="480.85" font-size="17.3" fill="#fff" text-anchor="start" font-weight="normal" textLength="93.02" lengthAdjust="spacingAndGlyphs" stroke="#fff" stroke-width="0.7">0.00000766</text>
<text x="1286.54" y="505.85" font-size="17.3" fill="#fff" text-anchor="start" font-weight="normal" textLength="93.02" lengthAdjust="spacingAndGlyphs" stroke="#fff" stroke-width="0.7">0.00000763</text>
<text x="1286.54" y="531.85" font-size="17.3" fill="#000" text-anchor="start" font-weight="normal" textLength="92.98" lengthAdjust="spacingAndGlyphs" stroke="#000" stroke-width="0.3">0.00000668</text>
<text x="1286.54" y="556.85" font-size="17.3" fill="#000" text-anchor="start" font-weight="normal" textLength="92.94" lengthAdjust="spacingAndGlyphs" stroke="#000" stroke-width="0.3">0.00000600</text>
<path d="M1191 109.3 H1273.8 V135.9 H1191 Q1188 135.9 1188 132.9 V112.3 Q1188 109.3 1191 109.3 Z" fill="#089981"/>
<text x="1196.21" y="129.00" font-size="16.4" fill="#fff" text-anchor="start" font-weight="normal" textLength="70.98" lengthAdjust="spacingAndGlyphs" stroke="#fff" stroke-width="0.85">PEPEUSD</text>
<text x="1287.05" y="640.80" font-size="18.0" fill="#131722" text-anchor="start" font-weight="normal" textLength="91.82" lengthAdjust="spacingAndGlyphs" stroke="#131722" stroke-width="0.4">0.00000400</text>
<text x="26.92" y="33.60" font-size="17.4" fill="#131722" text-anchor="start" font-weight="normal" textLength="39.42" lengthAdjust="spacingAndGlyphs" stroke="#131722" stroke-width="0.4">PEPE</text>
<text x="73.80" y="33.60" font-size="17.4" fill="#131722" text-anchor="start" font-weight="normal" textLength="5.46" lengthAdjust="spacingAndGlyphs" stroke="#131722" stroke-width="0.4">/</text>
<text x="86.32" y="33.60" font-size="17.4" fill="#131722" text-anchor="start" font-weight="normal" textLength="33.22" lengthAdjust="spacingAndGlyphs" stroke="#131722" stroke-width="0.4">U.S.</text>
<text x="125.22" y="33.60" font-size="17.4" fill="#131722" text-anchor="start" font-weight="normal" textLength="52.49" lengthAdjust="spacingAndGlyphs" stroke="#131722" stroke-width="0.4">Dollar,</text>
<text x="182.59" y="33.60" font-size="17.4" fill="#131722" text-anchor="start" font-weight="normal" textLength="25.63" lengthAdjust="spacingAndGlyphs" stroke="#131722" stroke-width="0.4">4h,</text>
<text x="214.41" y="33.60" font-size="17.4" fill="#131722" text-anchor="start" font-weight="normal" textLength="56.43" lengthAdjust="spacingAndGlyphs" stroke="#131722" stroke-width="0.4">GEMINI</text>
<text x="280.76" y="33.60" font-size="17.4" fill="#131722" text-anchor="start" font-weight="normal" textLength="12.72" lengthAdjust="spacingAndGlyphs" stroke="#131722" stroke-width="0.4">O</text>
<text x="293.75" y="33.60" font-size="17.4" fill="#089981" text-anchor="start" font-weight="normal" textLength="91.39" lengthAdjust="spacingAndGlyphs" stroke="#089981" stroke-width="0.4">0.00001002</text>
<text x="394.92" y="33.60" font-size="17.4" fill="#131722" text-anchor="start" font-weight="normal" textLength="13.35" lengthAdjust="spacingAndGlyphs" stroke="#131722" stroke-width="0.4">H</text>
<text x="407.45" y="33.60" font-size="17.4" fill="#089981" text-anchor="start" font-weight="normal" textLength="91.30" lengthAdjust="spacingAndGlyphs" stroke="#089981" stroke-width="0.4">0.00001043</text>
<text x="509.79" y="33.60" font-size="17.4" fill="#131722" text-anchor="start" font-weight="normal" textLength="9.12" lengthAdjust="spacingAndGlyphs" stroke="#131722" stroke-width="0.4">L</text>
<text x="519.16" y="33.60" font-size="17.4" fill="#089981" text-anchor="start" font-weight="normal" textLength="90.27" lengthAdjust="spacingAndGlyphs" stroke="#089981" stroke-width="0.4">0.00001001</text>
<text x="621.24" y="33.60" font-size="17.4" fill="#131722" text-anchor="start" font-weight="normal" textLength="10.92" lengthAdjust="spacingAndGlyphs" stroke="#131722" stroke-width="0.4">C</text>
<text x="631.95" y="33.60" font-size="17.4" fill="#089981" text-anchor="start" font-weight="normal" textLength="91.59" lengthAdjust="spacingAndGlyphs" stroke="#089981" stroke-width="0.4">0.00001037</text>
<text x="734.28" y="33.60" font-size="17.4" fill="#089981" text-anchor="start" font-weight="normal" textLength="100.74" lengthAdjust="spacingAndGlyphs" stroke="#089981" stroke-width="0.4">+0.00000038</text>
<text x="842.11" y="33.60" font-size="17.4" fill="#089981" text-anchor="start" font-weight="normal" textLength="67.59" lengthAdjust="spacingAndGlyphs" stroke="#089981" stroke-width="0.4">(+3.80%)</text>
<text x="26.89" y="59.60" font-size="17.4" fill="#131722" text-anchor="start" font-weight="normal" textLength="32.84" lengthAdjust="spacingAndGlyphs" stroke="#131722" stroke-width="0.4">EMA</text>
<text x="65.34" y="59.60" font-size="17.4" fill="#131722" text-anchor="start" font-weight="normal" textLength="122.68" lengthAdjust="spacingAndGlyphs" stroke="#131722" stroke-width="0.4">20/50/100/200</text>
<text x="199.25" y="59.60" font-size="17.4" fill="#ff0000" text-anchor="start" font-weight="normal" textLength="91.09" lengthAdjust="spacingAndGlyphs" stroke="#ff0000" stroke-width="0.4">0.00000916</text>
<text x="301.35" y="59.60" font-size="17.4" fill="#ffff00" text-anchor="start" font-weight="normal" textLength="91.40" lengthAdjust="spacingAndGlyphs" stroke="#ffff00" stroke-width="0.4">0.00000866</text>
<text x="403.95" y="59.60" font-size="17.4" fill="#ff7f00" text-anchor="start" font-weight="normal" textLength="91.59" lengthAdjust="spacingAndGlyphs" stroke="#ff7f00" stroke-width="0.4">0.00000817</text>
<text x="506.25" y="59.60" font-size="17.4" fill="#0000ff" text-anchor="start" font-weight="normal" textLength="91.20" lengthAdjust="spacingAndGlyphs" stroke="#0000ff" stroke-width="0.4">0.00000763</text>
<text x="27.32" y="85.50" font-size="17.4" fill="#131722" text-anchor="start" font-weight="normal" textLength="28.85" lengthAdjust="spacingAndGlyphs" stroke="#131722" stroke-width="0.4">S/R</text>
<text x="62.22" y="85.50" font-size="17.4" fill="#131722" text-anchor="start" font-weight="normal" textLength="44.33" lengthAdjust="spacingAndGlyphs" stroke="#131722" stroke-width="0.4">Zones</text>
<text x="113.64" y="85.50" font-size="17.4" fill="#131722" text-anchor="start" font-weight="normal" textLength="17.28" lengthAdjust="spacingAndGlyphs" stroke="#131722" stroke-width="0.4">x3</text>
<text x="138.05" y="85.50" font-size="17.4" fill="#131722" text-anchor="start" font-weight="normal" textLength="11.75" lengthAdjust="spacingAndGlyphs" stroke="#131722" stroke-width="0.4">(,</text>
<text x="155.21" y="85.50" font-size="17.4" fill="#131722" text-anchor="start" font-weight="normal" textLength="29.38" lengthAdjust="spacingAndGlyphs" stroke="#131722" stroke-width="0.4">S/R</text>
<text x="190.33" y="85.50" font-size="17.4" fill="#131722" text-anchor="start" font-weight="normal" textLength="47.52" lengthAdjust="spacingAndGlyphs" stroke="#131722" stroke-width="0.4">Zones,</text>
<text x="247.69" y="85.50" font-size="17.4" fill="#131722" text-anchor="start" font-weight="normal" textLength="11.88" lengthAdjust="spacingAndGlyphs" stroke="#131722" stroke-width="0.4">6,</text>
<text x="269.57" y="85.50" font-size="17.4" fill="#131722" text-anchor="start" font-weight="normal" textLength="32.83" lengthAdjust="spacingAndGlyphs" stroke="#131722" stroke-width="0.4">360,</text>
<text x="310.02" y="85.50" font-size="17.4" fill="#131722" text-anchor="start" font-weight="normal" textLength="29.06" lengthAdjust="spacingAndGlyphs" stroke="#131722" stroke-width="0.4">S/R</text>
<text x="344.73" y="85.50" font-size="17.4" fill="#131722" text-anchor="start" font-weight="normal" textLength="47.94" lengthAdjust="spacingAndGlyphs" stroke="#131722" stroke-width="0.4">Zones,</text>
<text x="402.06" y="85.50" font-size="17.4" fill="#131722" text-anchor="start" font-weight="normal" textLength="12.36" lengthAdjust="spacingAndGlyphs" stroke="#131722" stroke-width="0.4">6,</text>
<text x="424.45" y="85.50" font-size="17.4" fill="#131722" text-anchor="start" font-weight="normal" textLength="23.80" lengthAdjust="spacingAndGlyphs" stroke="#131722" stroke-width="0.4">1D,</text>
<text x="456.62" y="85.50" font-size="17.4" fill="#131722" text-anchor="start" font-weight="normal" textLength="28.74" lengthAdjust="spacingAndGlyphs" stroke="#131722" stroke-width="0.4">S/R</text>
<text x="491.53" y="85.50" font-size="17.4" fill="#131722" text-anchor="start" font-weight="normal" textLength="48.04" lengthAdjust="spacingAndGlyphs" stroke="#131722" stroke-width="0.4">Zones,</text>
<text x="548.59" y="85.50" font-size="17.4" fill="#131722" text-anchor="start" font-weight="normal" textLength="16.13" lengthAdjust="spacingAndGlyphs" stroke="#131722" stroke-width="0.4">6)</text>
<text x="575.24" y="85.50" font-size="17.4" fill="#2196f3" text-anchor="start" font-weight="normal" textLength="91.85" lengthAdjust="spacingAndGlyphs" stroke="#2196f3" stroke-width="0.4">0.00001100</text>
<text x="677.85" y="85.50" font-size="17.4" fill="#2196f3" text-anchor="start" font-weight="normal" textLength="91.66" lengthAdjust="spacingAndGlyphs" stroke="#2196f3" stroke-width="0.4">0.00001025</text>
<text x="780.37" y="85.50" font-size="15.5" fill="#131722" text-anchor="start" font-weight="normal" textLength="11.94" lengthAdjust="spacingAndGlyphs"  font-family="DejaVu Sans, sans-serif">∅</text>
<text x="803.77" y="85.50" font-size="15.5" fill="#131722" text-anchor="start" font-weight="normal" textLength="11.94" lengthAdjust="spacingAndGlyphs"  font-family="DejaVu Sans, sans-serif">∅</text>
<text x="826.45" y="85.50" font-size="17.4" fill="#ff5252" text-anchor="start" font-weight="normal" textLength="91.24" lengthAdjust="spacingAndGlyphs" stroke="#ff5252" stroke-width="0.4">0.00000834</text>
<text x="928.65" y="85.50" font-size="17.4" fill="#ff5252" text-anchor="start" font-weight="normal" textLength="91.28" lengthAdjust="spacingAndGlyphs" stroke="#ff5252" stroke-width="0.4">0.00000817</text>
<text x="1030.75" y="85.50" font-size="17.4" fill="#4caf50" text-anchor="start" font-weight="normal" textLength="91.20" lengthAdjust="spacingAndGlyphs" stroke="#4caf50" stroke-width="0.4">0.00000913</text>
<text x="1133.85" y="85.50" font-size="17.4" fill="#4caf50" text-anchor="start" font-weight="normal" textLength="90.99" lengthAdjust="spacingAndGlyphs" stroke="#4caf50" stroke-width="0.4">0.00000886</text>
<text x="1236.28" y="85.50" font-size="15.5" fill="#131722" text-anchor="start" font-weight="normal" textLength="11.82" lengthAdjust="spacingAndGlyphs"  font-family="DejaVu Sans, sans-serif">∅</text>
<text x="1246.97" y="85.50" font-size="17.4" fill="#131722" text-anchor="start" font-weight="normal" textLength="20.96" lengthAdjust="spacingAndGlyphs" stroke="#131722" stroke-width="0.4">…</text>
<text x="158.83" y="691.30" font-size="17.4" fill="#131722" text-anchor="start" font-weight="normal" textLength="19.40" lengthAdjust="spacingAndGlyphs" stroke="#131722" stroke-width="0.4">29</text>
<text x="280.80" y="691.30" font-size="17.4" fill="#131722" text-anchor="start" font-weight="normal" textLength="33.09" lengthAdjust="spacingAndGlyphs" stroke="#131722" stroke-width="0.4">May</text>
<text x="423.19" y="691.30" font-size="17.4" fill="#131722" text-anchor="start" font-weight="normal" textLength="9.02" lengthAdjust="spacingAndGlyphs" stroke="#131722" stroke-width="0.4">3</text>
<text x="616.65" y="691.30" font-size="17.4" fill="#131722" text-anchor="start" font-weight="normal" textLength="9.50" lengthAdjust="spacingAndGlyphs" stroke="#131722" stroke-width="0.4">6</text>
<text x="746.77" y="691.30" font-size="17.4" fill="#131722" text-anchor="start" font-weight="normal" textLength="9.53" lengthAdjust="spacingAndGlyphs" stroke="#131722" stroke-width="0.4">8</text>
<text x="872.25" y="691.30" font-size="17.4" fill="#131722" text-anchor="start" font-weight="normal" textLength="18.51" lengthAdjust="spacingAndGlyphs" stroke="#131722" stroke-width="0.4">10</text>
<text x="1065.84" y="691.30" font-size="17.4" fill="#131722" text-anchor="start" font-weight="normal" textLength="18.72" lengthAdjust="spacingAndGlyphs" stroke="#131722" stroke-width="0.4">13</text>
<text x="1195.64" y="691.30" font-size="17.4" fill="#131722" text-anchor="start" font-weight="normal" textLength="18.67" lengthAdjust="spacingAndGlyphs" stroke="#131722" stroke-width="0.4">15</text>
<circle cx="1162.4" cy="644.5" r="14.8" fill="#fff" stroke="#9c27b0" stroke-width="1.7"/>
<polygon points="1166.6,636.6 1155.6,645.2 1162.2,645.2 1157.8,652.4 1169.2,643.6 1162.6,643.6" fill="#9c27b0"/>
<circle cx="1183.4" cy="644.4" r="15.6" fill="#fff" stroke="#f23645" stroke-width="1.9"/>
<clipPath id="fc1183"><circle cx="1183.4" cy="644.4" r="12.3"/></clipPath>
<g clip-path="url(#fc1183)">
<rect x="1170.40" y="632.25" width="26.00" height="4.91" fill="#ef5350" />
<rect x="1170.40" y="637.11" width="26.00" height="4.91" fill="#f5f5fa" />
<rect x="1170.40" y="641.97" width="26.00" height="4.91" fill="#ef5350" />
<rect x="1170.40" y="646.83" width="26.00" height="4.91" fill="#f5f5fa" />
<rect x="1170.40" y="651.69" width="26.00" height="4.91" fill="#ef5350" />
<rect x="1170.40" y="632.25" width="15.50" height="14.38" fill="#1e88e5" />
<circle cx="1174.20" cy="634.85" r="1.05" fill="#fff"/>
<circle cx="1178.40" cy="634.85" r="1.05" fill="#fff"/>
<circle cx="1182.60" cy="634.85" r="1.05" fill="#fff"/>
<circle cx="1174.20" cy="639.15" r="1.05" fill="#fff"/>
<circle cx="1178.40" cy="639.15" r="1.05" fill="#fff"/>
<circle cx="1182.60" cy="639.15" r="1.05" fill="#fff"/>
<circle cx="1174.20" cy="643.45" r="1.05" fill="#fff"/>
<circle cx="1178.40" cy="643.45" r="1.05" fill="#fff"/>
<circle cx="1182.60" cy="643.45" r="1.05" fill="#fff"/>
</g>
<circle cx="1248.5" cy="644.4" r="15.6" fill="#fff" stroke="#f23645" stroke-width="1.9"/>
<clipPath id="fc1248"><circle cx="1248.5" cy="644.4" r="12.3"/></clipPath>
<g clip-path="url(#fc1248)">
<rect x="1235.50" y="632.25" width="26.00" height="4.91" fill="#ef5350" />
<rect x="1235.50" y="637.11" width="26.00" height="4.91" fill="#f5f5fa" />
<rect x="1235.50" y="641.97" width="26.00" height="4.91" fill="#ef5350" />
<rect x="1235.50" y="646.83" width="26.00" height="4.91" fill="#f5f5fa" />
<rect x="1235.50" y="651.69" width="26.00" height="4.91" fill="#ef5350" />
<rect x="1235.50" y="632.25" width="15.50" height="14.38" fill="#1e88e5" />
<circle cx="1239.30" cy="634.85" r="1.05" fill="#fff"/>
<circle cx="1243.50" cy="634.85" r="1.05" fill="#fff"/>
<circle cx="1247.70" cy="634.85" r="1.05" fill="#fff"/>
<circle cx="1239.30" cy="639.15" r="1.05" fill="#fff"/>
<circle cx="1243.50" cy="639.15" r="1.05" fill="#fff"/>
<circle cx="1247.70" cy="639.15" r="1.05" fill="#fff"/>
<circle cx="1239.30" cy="643.45" r="1.05" fill="#fff"/>
<circle cx="1243.50" cy="643.45" r="1.05" fill="#fff"/>
<circle cx="1247.70" cy="643.45" r="1.05" fill="#fff"/>
</g>
<rect x="15" y="5" width="1380" height="701" fill="none" stroke="#eff1f6" stroke-width="2"/>
<g fill="#131722">
<path d="M15 724.3 H26.8 V739 H20.6 V729.8 H15 Z"/>
<circle cx="31.8" cy="726.9" r="2.75"/>
<path d="M36.2 724.3 H44.3 L39.7 739 H31.8 Z"/>
</g>
<text x="49.52" y="739.70" font-size="19.3" fill="#131722" text-anchor="start" font-weight="normal" textLength="105.65" lengthAdjust="spacingAndGlyphs" >TradingView</text>
</svg>
</body></html>
